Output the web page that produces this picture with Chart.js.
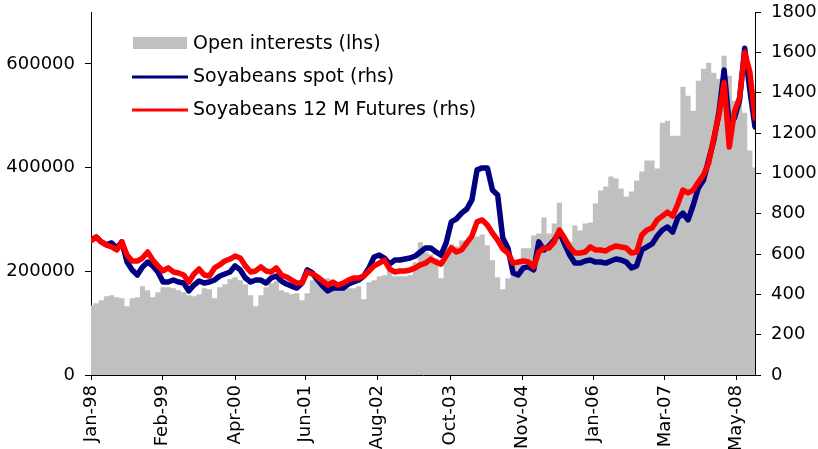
<!DOCTYPE html>
<html lang="en">
<head>
    <meta charset="UTF-8">
    <title>Soyabeans spot, futures and open interests</title>
    <script src="https://cdn.jsdelivr.net/npm/chart.js"></script>
    <style>
        body {
            margin: 0;
            background: #fff;
        }
        canvas {
            display: block;
        }
    </style>
</head>
<body>

    <canvas id="soyChart" width="818" height="449"></canvas>

    <script>
        // Dates shown under the x axis and where they fall (observation index)
        const tickLabels = ['Jan-98', 'Feb-99', 'Apr-00', 'Jun-01', 'Aug-02', 'Oct-03', 'Nov-04', 'Jan-06', 'Mar-07', 'May-08'];
        const tickPos = [0, 13.9, 28, 41.7, 55.6, 69.9, 83.8, 97.6, 111.5, 125.4];

        // Open interests (lhs), contracts
        const openInterest = [
            134600, 138500, 144200, 151900, 153800, 150000, 148100, 132700, 148100, 150000,
            171100, 163500, 150000, 159600, 169200, 169200, 167300, 163500, 159600, 153800,
            151900, 155800, 167300, 165400, 148100, 169200, 175000, 184600, 188500, 182700,
            175000, 153800, 132700, 153800, 169200, 176900, 180800, 163500, 159600, 155800,
            157700, 144200, 157700, 182700, 178800, 176900, 186500, 169200, 169200, 167300,
            167300, 167300, 171100, 146100, 178800, 182700, 190400, 192300, 201900, 190400,
            190400, 190400, 192300, 217300, 255800, 236500, 232700, 225000, 186500, 246100,
            251900, 248100, 259600, 259600, 263500, 267300, 271100, 250000, 221100, 188500,
            165400, 186500, 221100, 217300, 244200, 244200, 269200, 273100, 303800, 273100,
            292300, 332700, 259600, 255800, 288500, 278800, 292300, 294200, 330800, 355800,
            363400, 382700, 378800, 359600, 344200, 353800, 375000, 392300, 413500, 413500,
            398100, 486500, 490400, 461500, 461500, 555700, 538500, 509600, 567300, 590400,
            601900, 582700, 571100, 615400, 576900, 528800, 536500, 505800, 432700, 400000
        ];

        // Soyabeans spot (rhs)
        const spot = [
            669, 684, 660, 645, 655, 630, 660, 560, 521, 496,
            536, 560, 541, 511, 461, 461, 471, 461, 456, 417,
            446, 466, 456, 461, 471, 491, 501, 511, 541, 521,
            481, 461, 471, 471, 456, 481, 491, 466, 451, 441,
            431, 456, 521, 506, 471, 441, 417, 431, 431, 431,
            451, 461, 471, 491, 531, 585, 595, 580, 550, 570,
            570, 575, 580, 590, 610, 630, 630, 610, 595, 655,
            759, 774, 803, 823, 868, 1017, 1027, 1027, 917, 893,
            679, 630, 506, 496, 531, 536, 521, 660, 620, 640,
            669, 709, 650, 595, 555, 555, 565, 570, 560, 560,
            555, 565, 575, 570, 560, 531, 541, 620, 635, 650,
            689, 719, 734, 709, 779, 803, 769, 843, 927, 967,
            1066, 1165, 1304, 1512, 1240, 1274, 1364, 1620, 1413, 1230
        ];

        // Soyabeans 12 M Futures (rhs)
        const futures = [
            665, 684, 660, 645, 635, 620, 660, 595, 565, 565,
            580, 610, 570, 541, 516, 531, 511, 506, 496, 461,
            501, 526, 496, 491, 531, 546, 565, 575, 590, 580,
            541, 511, 516, 536, 516, 511, 531, 496, 486, 471,
            456, 456, 511, 501, 486, 466, 446, 461, 446, 456,
            471, 481, 481, 491, 516, 541, 555, 570, 526, 511,
            516, 516, 521, 531, 546, 555, 575, 560, 550, 590,
            630, 610, 620, 655, 689, 759, 769, 744, 704, 669,
            625, 605, 555, 560, 565, 560, 536, 610, 630, 630,
            660, 719, 679, 635, 605, 605, 610, 635, 620, 620,
            615, 630, 640, 635, 630, 605, 610, 694, 719, 729,
            769, 788, 808, 788, 848, 917, 903, 917, 957, 992,
            1051, 1175, 1289, 1450, 1130, 1304, 1374, 1600, 1503, 1274
        ];

        const leftTicks = [0, 200000, 400000, 600000];
        const rightTicks = [0, 200, 400, 600, 800, 1000, 1200, 1400, 1600, 1800];

        const toXY = arr => arr.map((v, i) => ({ x: i, y: v }));

        const tickFont = { family: '"DejaVu Sans", sans-serif', size: 18 };

        // fixed axis boxes so the plot area sits where the original one does
        const fixWidth = w => s => { s.width = w; s.paddingTop = 0; s.paddingBottom = 0; };

        // legend drawn inside the plot, top left
        const insideLegend = {
            id: 'insideLegend',
            afterDraw(chart) {
                const ctx = chart.ctx;
                const ds = chart.data.datasets;
                ctx.save();
                ctx.font = '19px "DejaVu Sans", sans-serif';
                ctx.textBaseline = 'middle';

                // grey box
                ctx.fillStyle = '#c0c0c0';
                ctx.fillRect(133, 37, 54, 12);
                ctx.fillStyle = '#000';
                ctx.fillText(ds[0].label, 193, 44);

                ctx.lineWidth = 3;
                ctx.strokeStyle = ds[1].borderColor;
                ctx.beginPath();
                ctx.moveTo(132, 77);
                ctx.lineTo(188, 77);
                ctx.stroke();
                ctx.fillText(ds[1].label, 193, 77);

                ctx.strokeStyle = ds[2].borderColor;
                ctx.beginPath();
                ctx.moveTo(132, 110);
                ctx.lineTo(188, 110);
                ctx.stroke();
                ctx.fillText(ds[2].label, 193, 110);
                ctx.restore();
            }
        };

        const ctx = document.getElementById('soyChart').getContext('2d');
        const chart = new Chart(ctx, {
            type: 'line',
            data: {
                datasets: [
                    {
                        label: 'Open interests (lhs)',
                        data: toXY(openInterest),
                        yAxisID: 'yL',
                        stepped: 'middle',
                        fill: 'origin',
                        backgroundColor: '#c0c0c0',
                        borderWidth: 0,
                        pointRadius: 0,
                        order: 2
                    },
                    {
                        label: 'Soyabeans spot (rhs)',
                        data: toXY(spot),
                        yAxisID: 'yR',
                        borderColor: '#000080',
                        borderWidth: 5.5,
                        borderJoinStyle: 'round',
                        borderCapStyle: 'round',
                        pointRadius: 0,
                        tension: 0,
                        order: 1
                    },
                    {
                        label: 'Soyabeans 12 M Futures (rhs)',
                        data: toXY(futures),
                        yAxisID: 'yR',
                        borderColor: '#ff0000',
                        borderWidth: 5.5,
                        borderJoinStyle: 'round',
                        borderCapStyle: 'round',
                        pointRadius: 0,
                        tension: 0,
                        order: 0
                    }
                ]
            },
            options: {
                responsive: false,
                animation: false,
                layout: { padding: { top: 12, left: 0, right: 0, bottom: 0 } },
                plugins: {
                    legend: { display: false },
                    tooltip: { enabled: false }
                },
                scales: {
                    x: {
                        type: 'linear',
                        min: 0,
                        max: spot.length - 1,
                        afterBuildTicks: s => { s.ticks = tickPos.map(v => ({ value: v })); },
                        afterFit: s => { s.height = 74; s.paddingLeft = 0; s.paddingRight = 0; },
                        grid: { drawOnChartArea: false, drawTicks: true, tickLength: 5, tickColor: '#000' },
                        border: { display: true, color: '#000', width: 1 },
                        ticks: {
                            autoSkip: false,
                            minRotation: 90,
                            maxRotation: 90,
                            padding: 5,
                            color: '#000',
                            font: tickFont,
                            callback: (v, i) => tickLabels[i]
                        }
                    },
                    yL: {
                        position: 'left',
                        min: 0,
                        max: 700000,
                        afterBuildTicks: s => { s.ticks = leftTicks.map(v => ({ value: v })); },
                        afterFit: fixWidth(91),
                        grid: { drawOnChartArea: false, drawTicks: true, tickLength: 6, tickColor: '#000' },
                        border: { display: true, color: '#000', width: 1 },
                        ticks: { padding: 10, color: '#000', font: tickFont, callback: v => String(v) }
                    },
                    yR: {
                        position: 'right',
                        min: 0,
                        max: 1800,
                        afterBuildTicks: s => { s.ticks = rightTicks.map(v => ({ value: v })); },
                        afterFit: fixWidth(63),
                        grid: { drawOnChartArea: false, drawTicks: true, tickLength: 6, tickColor: '#000' },
                        border: { display: true, color: '#000', width: 1 },
                        ticks: { padding: 10, color: '#000', font: tickFont, callback: v => String(v) }
                    }
                }
            },
            plugins: [insideLegend]
        });
    </script>
</body>
</html>
